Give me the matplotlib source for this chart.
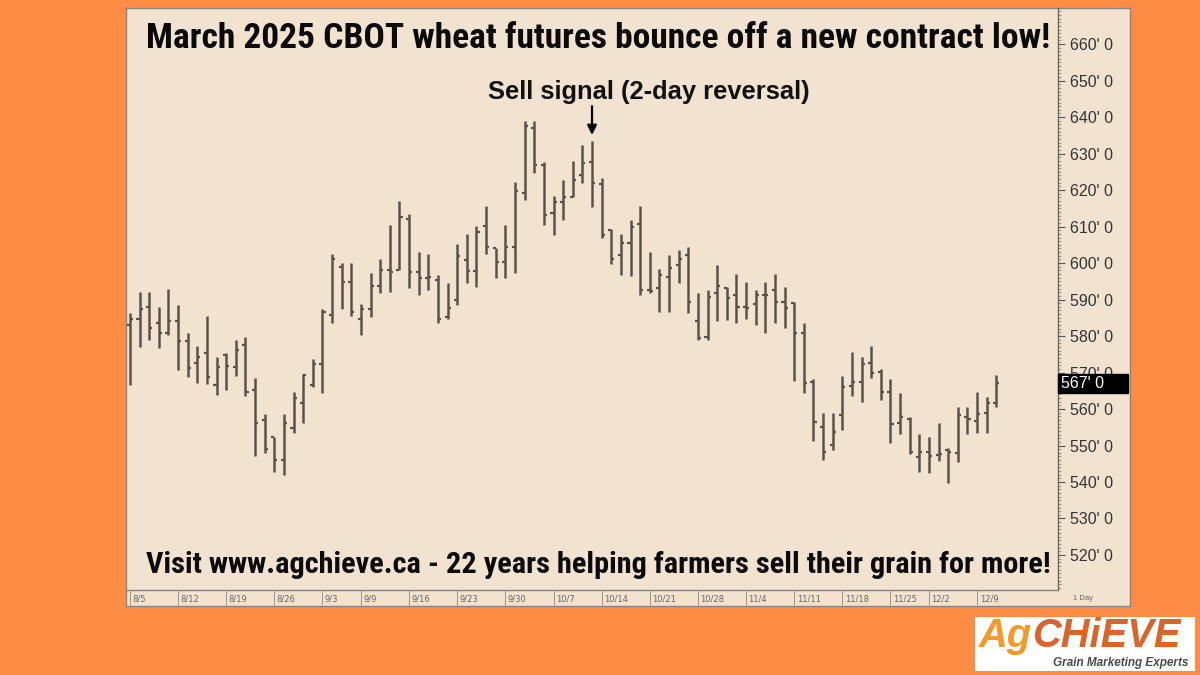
import matplotlib
matplotlib.use("Agg")
import matplotlib.pyplot as plt
from matplotlib import font_manager
from matplotlib.font_manager import FontProperties
from matplotlib.patches import Rectangle
import matplotlib.transforms as mtransforms
from matplotlib.ticker import MultipleLocator, FixedLocator

# ---------------- data ----------------
opens = [583.0, 584.8, 588.0, 583.7, 580.7, 584.2, 578.7, 572.5, 575.4, 566.6,
         574.8, 571.6, 577.5, 565.2, 557.0, 552.2, 546.0, 554.7, 561.7, 566.6,
         572.3, 585.7, 599.0, 594.9, 584.8, 587.3, 593.7, 598.1, 598.1, 612.2,
         597.6, 595.8, 595.3, 585.3, 589.9, 600.8, 597.9, 610.1, 604.0, 600.4,
         604.5, 619.1, 636.9, 626.9, 613.6, 616.8, 618.2, 624.1, 627.8, 621.8,
         609.0, 602.2, 605.4, 610.7, 592.6, 593.1, 596.3, 599.5, 602.2, 584.2,
         579.6, 591.9, 593.3, 591.2, 587.9, 588.9, 591.2, 592.6, 589.4, 589.1,
         580.7, 567.5, 555.0, 550.1, 558.4, 566.3, 567.5, 572.7, 570.2, 564.7,
         556.1, 557.4, 546.8, 548.1, 547.4, 548.8, 547.9, 557.9, 556.8, 558.8,
         561.6]
highs = [586.2, 592.2, 592.2, 587.9, 592.8, 588.5, 580.7, 577.3, 585.5, 574.3,
         575.3, 578.9, 579.6, 568.4, 558.6, 552.4, 558.6, 564.7, 569.6, 573.6,
         587.3, 602.5, 600.1, 600.1, 588.8, 597.2, 601.0, 610.4, 617.1, 613.4,
         603.1, 602.5, 596.7, 594.6, 605.2, 608.0, 610.1, 615.6, 604.0, 610.4,
         622.3, 639.0, 639.0, 627.8, 618.4, 622.7, 628.0, 632.3, 633.5, 623.2,
         609.2, 608.0, 611.8, 615.6, 603.1, 598.3, 602.2, 603.6, 604.5, 591.7,
         592.6, 599.5, 593.5, 597.0, 594.9, 592.6, 594.9, 597.0, 593.5, 589.4,
         583.5, 568.1, 559.0, 559.0, 569.0, 575.7, 574.2, 577.3, 571.1, 568.1,
         564.3, 557.7, 553.2, 552.2, 556.3, 549.2, 560.5, 560.5, 564.7, 563.4,
         569.3]
lows = [566.6, 577.1, 578.9, 576.6, 580.3, 570.7, 568.7, 567.2, 566.9, 563.8,
        565.2, 569.0, 563.6, 547.1, 547.9, 542.8, 541.9, 553.3, 556.3, 565.9,
        564.5, 583.7, 587.3, 585.5, 580.3, 585.3, 591.7, 592.2, 598.1, 593.1,
        591.2, 592.6, 583.5, 584.6, 588.5, 594.6, 593.5, 602.5, 595.8, 595.8,
        597.4, 617.3, 624.6, 610.4, 607.7, 611.8, 618.2, 622.0, 615.3, 606.8,
        599.7, 596.7, 596.4, 591.2, 591.7, 586.7, 586.7, 594.4, 586.2, 578.9,
        578.9, 584.2, 584.4, 583.7, 584.8, 583.0, 580.7, 583.7, 582.1, 567.8,
        564.5, 551.3, 546.0, 548.9, 554.2, 563.6, 562.0, 568.4, 562.5, 550.6,
        553.2, 547.7, 542.8, 542.6, 545.8, 539.8, 545.6, 553.2, 553.5, 553.5,
        560.6]
closes = [584.8, 587.3, 582.1, 580.7, 584.2, 578.7, 571.3, 574.3, 568.9, 571.6,
          571.9, 576.2, 564.7, 556.3, 549.0, 546.0, 556.1, 562.9, 569.3, 572.3,
          586.7, 601.0, 594.9, 586.7, 587.3, 593.7, 598.1, 597.6, 612.7, 597.6,
          595.8, 596.3, 584.8, 587.6, 601.9, 597.9, 608.6, 604.5, 600.4, 604.5,
          619.8, 637.5, 626.9, 613.1, 616.8, 618.2, 622.7, 627.3, 622.0, 607.7,
          601.0, 605.4, 610.0, 592.6, 592.4, 596.7, 598.6, 601.0, 589.4, 579.4,
          590.8, 593.7, 590.3, 588.0, 587.6, 591.2, 591.2, 589.4, 587.6, 580.7,
          567.2, 556.5, 548.3, 553.8, 565.9, 567.5, 572.3, 569.8, 564.7, 555.9,
          557.9, 548.3, 548.1, 547.1, 547.7, 548.3, 558.4, 557.4, 558.6, 561.7,
          567.0]
date_labels = ["8/5", "8/12", "8/19", "8/26", "9/3", "9/9", "9/16", "9/23", "9/30",
               "10/7", "10/14", "10/21", "10/28", "11/4", "11/11", "11/18", "11/25",
               "12/2", "12/9"]
date_label_idx = [0, 5, 10, 15, 20, 24, 29, 34, 39, 44, 49, 54, 59, 64, 69, 74, 79,
                  83, 88]
price_ticks = [520, 530, 540, 550, 560, 570, 580, 590, 600, 610, 620, 630, 640, 650, 660]
last_price = 567.0
signal_bar = 48

# ---------------- style ----------------
ORANGE = "#FF8C45"
BG = "#F1E3D0"
BAR = "#5B524A"
available = {f.name for f in font_manager.fontManager.ttflist}
ARIAL = "Liberation Sans" if "Liberation Sans" in available else "DejaVu Sans"

NARROW = None
for cand in ["Liberation Sans Narrow", "Arial Narrow", "DejaVu Sans Condensed",
             "Roboto Condensed", "Open Sans Condensed", "Noto Sans Condensed"]:
    if cand in available:
        NARROW = cand
        break
NARROW_STRETCH = "normal"
if NARROW is None:
    for fam in ["DejaVu Sans", "Open Sans", "Noto Sans", "Roboto"]:
        try:
            path = font_manager.findfont(FontProperties(family=fam, stretch="condensed",
                                                        weight="bold"),
                                         fallback_to_default=False)
            if "ondens" in path or "arrow" in path:
                NARROW = fam
                NARROW_STRETCH = "condensed"
                break
        except Exception:
            pass
if NARROW is None:
    NARROW = ARIAL

W, H = 1200, 675
fig = plt.figure(figsize=(W / 100, H / 100), dpi=100, facecolor=ORANGE)


def fx(px):
    return px / W


def fy(py):
    return 1 - py / H


def fit_width(txt, target_px):
    fig.canvas.draw()
    w = txt.get_window_extent().width
    if w > 0:
        txt.set_fontsize(txt.get_fontsize() * target_px / w)


# chart panel
panel = fig.add_axes([fx(126), fy(606), fx(1130) - fx(126), fy(8) - fy(606)])
panel.set_facecolor(BG)
panel.set_xticks([])
panel.set_yticks([])
for s in panel.spines.values():
    s.set_color("#8a8580")
    s.set_linewidth(1.0)

ax = fig.add_axes([fx(127), fy(590), fx(1058) - fx(127), fy(8) - fy(590)])
ax.patch.set_alpha(0)
n = len(closes)
xs = list(range(n))
tick_w = 0.32
ax.vlines(xs, lows, highs, color=BAR, lw=1.8)
ax.hlines(opens, [x - tick_w for x in xs], xs, color=BAR, lw=1.6)
ax.hlines(closes, xs, [x + tick_w for x in xs], color=BAR, lw=1.6)

ax.set_xlim(-0.3, 96.4)
ax.set_ylim(510.4, 669.9)

for side in ["top", "left"]:
    ax.spines[side].set_visible(False)
ax.spines["right"].set_color("#6a6560")
ax.spines["bottom"].set_color("#8a8580")
ax.spines["right"].set_linewidth(1.0)
ax.spines["bottom"].set_linewidth(1.0)

# price scale on the right
ax.yaxis.tick_right()
ax.yaxis.set_major_locator(FixedLocator(price_ticks))
ax.yaxis.set_minor_locator(MultipleLocator(1))
ax.set_yticklabels([f"{p}' 0" for p in price_ticks])
ax.tick_params(axis="y", which="major", length=5, width=0.8, color="#555555",
               labelsize=11.5, labelcolor="#333333", pad=4)
ax.tick_params(axis="y", which="minor", length=2.5, width=0.5, color="#777777")
for lab in ax.get_yticklabels():
    lab.set_fontfamily(ARIAL)

# date strip
ax.set_xticks(date_label_idx)
ax.set_xticklabels(date_labels)
ax.tick_params(axis="x", which="major", direction="out", length=11, width=0.7,
               color="#9a9590", labelsize=6, labelcolor="#666666", pad=-8)
offset = mtransforms.ScaledTranslation(0.025, 0, fig.dpi_scale_trans)
for lab in ax.get_xticklabels():
    lab.set_horizontalalignment("left")
    lab.set_transform(lab.get_transform() + offset)
fig.text(fx(1073), fy(598), "1 Day", fontsize=5.5, color="#666666", va="center",
         family=ARIAL)

# last price box
blend = mtransforms.blended_transform_factory(ax.transAxes, ax.transData)
box_w = 70 / 931
ax.add_patch(Rectangle((1.0, last_price - 2.5), box_w, 5.0, transform=blend,
                       facecolor="black", edgecolor="black", clip_on=False, zorder=6))
ax.text(1.0 + 3 / 931, last_price, f"{last_price:.0f}' 0", transform=blend,
        color="white", fontsize=11.5, va="center", ha="left", zorder=7,
        family=ARIAL, clip_on=False)

# annotations
ax.annotate("", xy=(signal_bar, highs[signal_bar] + 1.6),
            xytext=(signal_bar, highs[signal_bar] + 9.5),
            arrowprops=dict(arrowstyle="-|>", color="black", lw=1.6,
                            mutation_scale=14, shrinkA=0, shrinkB=0))
sig = fig.text(fx(649), fy(92), "Sell signal (2-day reversal)", fontsize=17,
               fontweight="bold", ha="center", va="center", family=ARIAL,
               color="#111111")
fit_width(sig, 322)

title = fig.text(fx(598), fy(38),
                 "March 2025 CBOT wheat futures bounce off a new contract low!",
                 fontsize=20.5, fontweight="bold", ha="center", va="center",
                 family=NARROW, fontstretch=NARROW_STRETCH, color="#0a0a0a")
fit_width(title, 907)
footer = fig.text(fx(598), fy(565),
                  "Visit www.agchieve.ca - 22 years helping farmers sell their grain for more!",
                  fontsize=18, fontweight="bold", ha="center", va="center",
                  family=NARROW, fontstretch=NARROW_STRETCH, color="#0a0a0a")
fit_width(footer, 903)

# logo
logo = fig.add_axes([fx(975), fy(671), fx(1195) - fx(975), fy(617) - fy(671)])
logo.set_facecolor("white")
logo.set_xticks([])
logo.set_yticks([])
for s in logo.spines.values():
    s.set_visible(False)
LOGO_BASE = 647
t1 = fig.text(fx(979), fy(LOGO_BASE), "Ag", fontsize=25, fontweight="bold",
              style="italic", color="#F39A2B", va="baseline", ha="left", family=ARIAL)
t2 = fig.text(fx(1020), fy(LOGO_BASE), "CHiEVE", fontsize=25, fontweight="bold",
              style="italic", color="#D9642C", va="baseline", ha="left", family=ARIAL)
fig.canvas.draw()
w_total = t1.get_window_extent().width + t2.get_window_extent().width
k = min(211.0 / w_total, 1.15)
t1.set_fontsize(25 * k)
t2.set_fontsize(25 * k)
fig.canvas.draw()
t2.set_x(t1.get_window_extent().x1 / W)
fig.text(fx(1188), fy(669), "Grain Marketing Experts", fontsize=8.5, style="italic",
         fontweight="bold", color="#4a4a4a", va="bottom", ha="right", family=ARIAL)

fig.savefig("out.png", dpi=100, facecolor=ORANGE)
